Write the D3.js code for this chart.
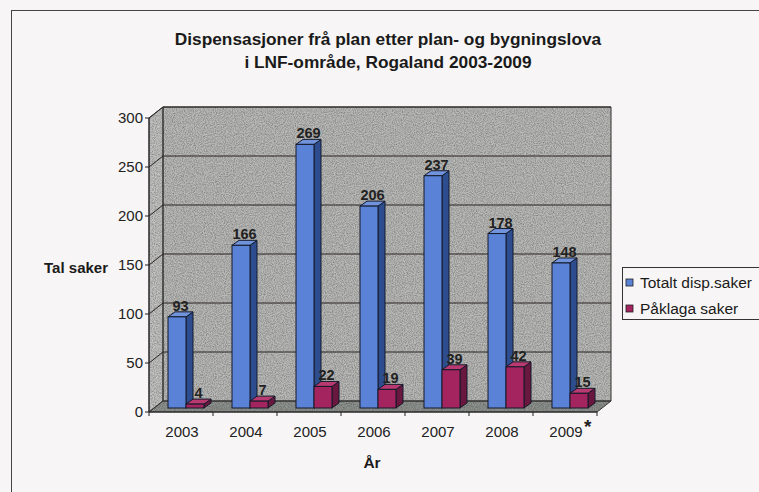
<html>
<head>
<meta charset="UTF-8">
<title>Dispensasjoner</title>
<style>
	body { margin: 0; background: #f7f5f5; }
	svg { display: block; font-family: "Liberation Sans", Arial, sans-serif; }
	.tick_lbl { font-size: 15px; fill: #222; }
	.val_lbl { font-size: 14.5px; font-weight: bold; fill: #222; text-anchor: middle; }
</style>
</head>
<body>
<script src="https://cdnjs.cloudflare.com/ajax/libs/d3/7.8.5/d3.min.js"></script>
<script>

	// data
	var years = ["2003", "2004", "2005", "2006", "2007", "2008", "2009"];
	var totalt = [93, 166, 269, 206, 237, 178, 148];
	var paklaga = [4, 7, 22, 19, 39, 42, 15];
	var seriesNames = ["Totalt disp.saker", "Påklaga saker"];
	var yTicks = [0, 50, 100, 150, 200, 250, 300];

	var width = 759, height = 492;

	var svg = d3.select("body").append("svg")
		.attr("width", width)
		.attr("height", height);

	// scanned-paper noise
	var defs = svg.append("defs");
	var f = defs.append("filter").attr("id", "grain")
		.attr("x", 0).attr("y", 0).attr("width", "100%").attr("height", "100%");
	f.append("feTurbulence")
		.attr("type", "fractalNoise")
		.attr("baseFrequency", 0.9)
		.attr("numOctaves", 2)
		.attr("seed", 3);
	f.append("feColorMatrix")
		.attr("type", "matrix")
		.attr("values", "0 0 0 0 0  0 0 0 0 0  0 0 0 0 0  0 0 0 -1.6 1.05");

	svg.append("rect")
		.attr("x", 0).attr("y", 0)
		.attr("width", width).attr("height", height)
		.attr("fill", "#f7f5f5");

	// outer chart border (right / bottom run off the page)
	svg.append("rect")
		.attr("x", 11.5).attr("y", 10.5)
		.attr("width", 800).attr("height", 600)
		.attr("fill", "none")
		.attr("stroke", "#444")
		.attr("stroke-width", 1);

	// title
	var title = svg.append("text")
		.attr("text-anchor", "middle")
		.style("font-size", "17.3px")
		.style("font-weight", "bold")
		.attr("fill", "#1a1a1a");
	title.append("tspan").attr("x", 388).attr("y", 45).text("Dispensasjoner frå plan etter plan- og bygningslova");
	title.append("tspan").attr("x", 388).attr("y", 68).text("i LNF-område, Rogaland 2003-2009");

	// 3d geometry
	var x0 = 149, x1 = 597;
	var depthX = 14, depthY = -11;   // back wall offset
	var barShiftX = 5, barShiftY = -4; // bar plane offset
	var barDX = 7, barDY = -5;       // bar depth

	var y = d3.scaleLinear().domain([0, 300]).range([412, 118]);

	var xBand = d3.scaleBand()
		.domain(years)
		.range([x0, x1])
		.paddingInner(0.4375)
		.paddingOuter(0.21875);

	var xSeries = d3.scaleBand()
		.domain([0, 1])
		.range([0, xBand.bandwidth()]);

	var plot = svg.append("g");

	function pts(a) {
		return a.map(function (p) { return p[0] + "," + p[1]; }).join(" ");
	}

	var backWall = [[x0 + depthX, y(300) + depthY], [x1 + depthX, y(300) + depthY],
		[x1 + depthX, y(0) + depthY], [x0 + depthX, y(0) + depthY]];
	var leftWall = [[x0, y(300)], [x0 + depthX, y(300) + depthY],
		[x0 + depthX, y(0) + depthY], [x0, y(0)]];
	var floor = [[x0, y(0)], [x1, y(0)], [x1 + depthX, y(0) + depthY], [x0 + depthX, y(0) + depthY]];

	[[backWall, "#b9b9b7"], [leftWall, "#c2c2c0"], [floor, "#8f938f"]].forEach(function (w) {
		plot.append("polygon")
			.attr("points", pts(w[0]))
			.attr("fill", w[1]);
	});

	// texture over the walls
	defs.append("clipPath").attr("id", "wallclip")
		.selectAll("polygon").data([backWall, leftWall, floor]).enter()
		.append("polygon").attr("points", pts);
	plot.append("rect")
		.attr("x", x0).attr("y", y(300) + depthY)
		.attr("width", x1 + depthX - x0).attr("height", y(0) - y(300) - depthY)
		.attr("clip-path", "url(#wallclip)")
		.attr("filter", "url(#grain)")
		.attr("opacity", 0.35);

	[backWall, leftWall, floor].forEach(function (w) {
		plot.append("polygon")
			.attr("points", pts(w))
			.attr("fill", "none")
			.attr("stroke", "#333");
	});

	// gridlines
	yTicks.filter(function (t) { return t > 0; }).forEach(function (t) {
		plot.append("polyline")
			.attr("points", pts([[x0, y(t)], [x0 + depthX, y(t) + depthY], [x1 + depthX, y(t) + depthY]]))
			.attr("fill", "none")
			.attr("stroke", "#2a2424")
			.attr("stroke-width", 1);
	});

	// axes lines
	plot.append("line")
		.attr("x1", x0).attr("x2", x0)
		.attr("y1", y(300)).attr("y2", y(0))
		.attr("stroke", "#222");
	plot.append("line")
		.attr("x1", x0).attr("x2", x1)
		.attr("y1", y(0)).attr("y2", y(0))
		.attr("stroke", "#222");

	// y ticks
	yTicks.forEach(function (t) {
		plot.append("line")
			.attr("x1", x0 - 4).attr("x2", x0)
			.attr("y1", y(t)).attr("y2", y(t))
			.attr("stroke", "#222");
		plot.append("text")
			.attr("class", "tick_lbl")
			.attr("x", x0 - 6)
			.attr("y", y(t) + 5)
			.attr("text-anchor", "end")
			.text(t);
	});

	// x ticks
	var tickXs = years.map(function (d) { return xBand(d) - xBand.step() * xBand.paddingOuter(); });
	tickXs.push(x1);
	tickXs.forEach(function (tx) {
		plot.append("line")
			.attr("x1", tx).attr("x2", tx)
			.attr("y1", y(0)).attr("y2", y(0) + 4)
			.attr("stroke", "#222");
	});
	years.forEach(function (d) {
		plot.append("text")
			.attr("class", "tick_lbl")
			.attr("x", xBand(d) + xBand.bandwidth() / 2 + 1)
			.attr("y", 437)
			.attr("text-anchor", "middle")
			.text(d);
	});
	// asterisk on 2009
	plot.append("text")
		.attr("x", xBand("2009") + xBand.bandwidth() / 2 + 19)
		.attr("y", 433)
		.style("font-size", "19px")
		.style("font-weight", "bold")
		.attr("fill", "#222")
		.text("*");

	// bars
	var colors = [
		{ front: "#5a82d6", side: "#2d4d8e", top: "#7193dc" },
		{ front: "#a3245e", side: "#6a1740", top: "#b83a70" }
	];
	var series = [totalt, paklaga];

	series.forEach(function (vals, s) {
		vals.forEach(function (v, i) {
			var bx = xBand(years[i]) + xSeries(s) + barShiftX;
			var bw = xSeries.bandwidth();
			var by0 = y(0) + barShiftY;
			var by1 = y(v) + barShiftY;
			var c = colors[s];
			var g = plot.append("g");
			// side face
			g.append("polygon")
				.attr("points", pts([[bx + bw, by1], [bx + bw + barDX, by1 + barDY], [bx + bw + barDX, by0 + barDY], [bx + bw, by0]]))
				.attr("fill", c.side)
				.attr("stroke", "#141a2a")
				.attr("stroke-width", 1);
			// top face
			g.append("polygon")
				.attr("points", pts([[bx, by1], [bx + barDX, by1 + barDY], [bx + bw + barDX, by1 + barDY], [bx + bw, by1]]))
				.attr("fill", c.top)
				.attr("stroke", "#141a2a")
				.attr("stroke-width", 1);
			// front face
			g.append("rect")
				.attr("x", bx).attr("y", by1)
				.attr("width", bw).attr("height", by0 - by1)
				.attr("fill", c.front)
				.attr("stroke", "#141a2a")
				.attr("stroke-width", 1);
			// value label
			plot.append("text")
				.attr("class", "val_lbl")
				.attr("x", bx + bw / 2 + barDX / 2)
				.attr("y", by1 + barDY - 1)
				.text(v);
		});
	});

	// axis titles
	svg.append("text")
		.attr("x", 108).attr("y", 273)
		.attr("text-anchor", "end")
		.style("font-size", "15px")
		.style("font-weight", "bold")
		.attr("fill", "#1a1a1a")
		.text("Tal saker");
	svg.append("text")
		.attr("x", 372).attr("y", 468)
		.attr("text-anchor", "middle")
		.style("font-size", "15.5px")
		.style("font-weight", "bold")
		.attr("fill", "#1a1a1a")
		.text("År");

	// legend
	var legend = svg.append("g");
	legend.append("rect")
		.attr("x", 622.5).attr("y", 267.5)
		.attr("width", 200).attr("height", 52)
		.attr("fill", "#f7f5f5")
		.attr("stroke", "#333");
	seriesNames.forEach(function (n, i) {
		legend.append("rect")
			.attr("x", 626).attr("y", 279 + i * 26)
			.attr("width", 7).attr("height", 7)
			.attr("fill", colors[i].front)
			.attr("stroke", "#222")
			.attr("stroke-width", 0.8);
		legend.append("text")
			.attr("x", 640).attr("y", 288 + i * 26)
			.style("font-size", "15.5px")
			.attr("fill", "#1a1a1a")
			.text(n);
	});

</script>
</body>
</html>
